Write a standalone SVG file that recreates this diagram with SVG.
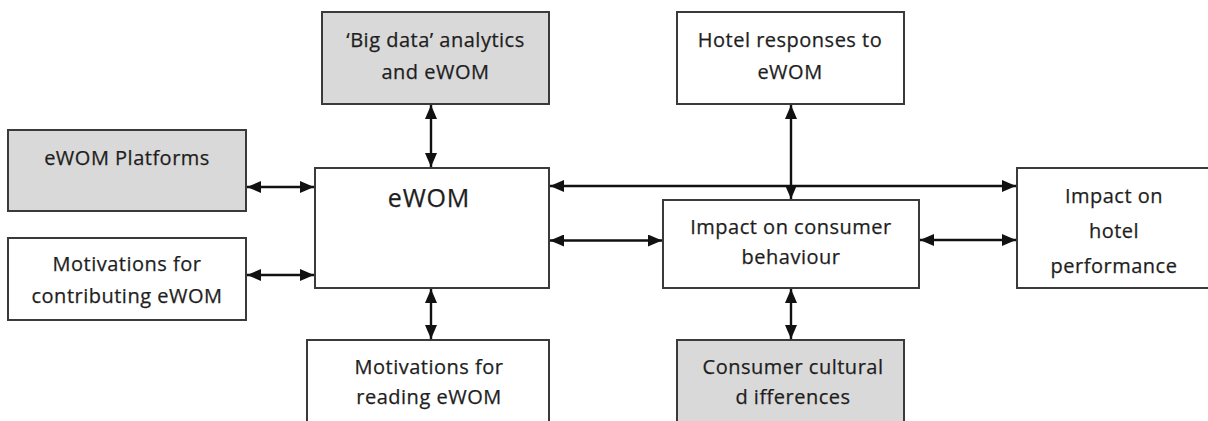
<svg xmlns="http://www.w3.org/2000/svg" width="1208" height="421" viewBox="0 0 1208 421">
<style>
.box{fill:#ffffff;stroke:#3a3a3a;stroke-width:2}
.grey{fill:#d9d9d9}
.t{font-family:"Open Sans","Liberation Sans",sans-serif;font-size:20px;fill:#1e1e1e;stroke:#1e1e1e;stroke-width:0.25;text-anchor:middle;letter-spacing:0.5px}
.big{font-size:25px;letter-spacing:0.8px}
.c{stroke:#111111;stroke-width:2.4;fill:none;marker-start:url(#ah);marker-end:url(#ah)}
</style>
<defs>
<marker id="ah" viewBox="0 0 14 12" refX="14" refY="6" markerWidth="14" markerHeight="12" markerUnits="userSpaceOnUse" orient="auto-start-reverse">
<path d="M0,0 L14,6 L0,12 z" fill="#111111"/>
</marker>
</defs>
<rect width="1208" height="421" fill="#ffffff"/>
<g id="connectors">
<line class="c" x1="247" y1="187" x2="314" y2="187"/>
<line class="c" x1="247" y1="275" x2="314" y2="275"/>
<line class="c" x1="431" y1="105" x2="431" y2="167"/>
<line class="c" x1="431" y1="289" x2="431" y2="339"/>
<line class="c" x1="550" y1="240.5" x2="662" y2="240.5"/>
<line class="c" x1="550" y1="186" x2="1016" y2="186"/>
<line class="c" x1="791" y1="105" x2="791" y2="199"/>
<line class="c" x1="791" y1="289" x2="791" y2="339"/>
<line class="c" x1="920" y1="240" x2="1016" y2="240"/>
</g>
<g id="node-platforms">
<rect class="box grey" x="8" y="130" width="238" height="81"/>
<text class="t" x="127" y="165">eWOM Platforms</text>
</g>
<g id="node-bigdata">
<rect class="box grey" x="322" y="12" width="227" height="92"/>
<text class="t" x="435.5" y="47">‘Big data’ analytics</text>
<text class="t" x="435.5" y="79">and eWOM</text>
</g>
<g id="node-hotelresponses">
<rect class="box" x="677" y="12" width="227" height="92"/>
<text class="t" x="790" y="47">Hotel responses to</text>
<text class="t" x="790" y="79">eWOM</text>
</g>
<g id="node-ewom">
<rect class="box" x="315" y="168" width="234" height="120"/>
<text class="t big" x="429" y="207">eWOM</text>
</g>
<g id="node-contributing">
<rect class="box" x="8" y="238" width="238" height="82"/>
<text class="t" x="127" y="271">Motivations for</text>
<text class="t" x="127" y="303">contributing eWOM</text>
</g>
<g id="node-reading">
<rect class="box" x="307" y="340" width="242" height="90"/>
<text class="t" x="429" y="374">Motivations for</text>
<text class="t" x="429" y="404">reading eWOM</text>
</g>
<g id="node-consumer">
<rect class="box" x="663" y="200" width="256" height="88"/>
<text class="t" x="791" y="234">Impact on consumer</text>
<text class="t" x="791" y="264">behaviour</text>
</g>
<g id="node-cultural">
<rect class="box grey" x="677" y="340" width="227" height="90"/>
<text class="t" x="793" y="374">Consumer cultural</text>
<text class="t" x="793" y="404">d ifferences</text>
</g>
<g id="node-hotelperformance">
<rect class="box" x="1017" y="168" width="194" height="120"/>
<text class="t" x="1114" y="203">Impact on</text>
<text class="t" x="1114" y="238">hotel</text>
<text class="t" x="1114" y="273">performance</text>
</g>
</svg>
